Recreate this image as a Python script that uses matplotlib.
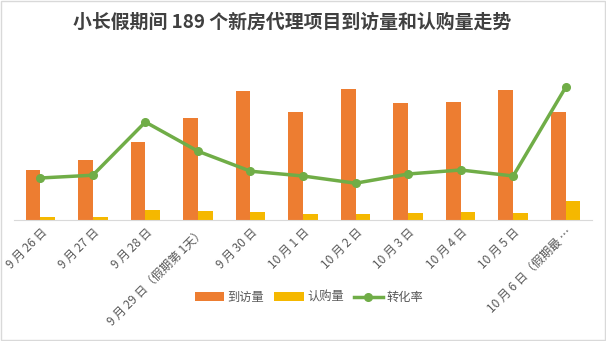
import matplotlib.pyplot as plt
import numpy as np

plt.rcParams['font.family'] = ['Noto Sans CJK SC', 'DejaVu Sans']

# daily figures for the holiday week
dates = ['9 月 26 日', '9 月 27 日', '9 月 28 日', '9 月 29 日（假期第 1天）', '9 月 30 日',
         '10 月 1 日', '10 月 2 日', '10 月 3 日', '10 月 4 日', '10 月 5 日',
         '10 月 6 日（假期最 …']
visits = [5000, 6000, 7800, 10200, 12900, 10800, 13100, 11700, 11800, 13000, 10800]
purchases = [300, 300, 1000, 900, 800, 600, 600, 700, 800, 700, 1900]
conv_rate = [5.25, 5.6, 12.25, 8.6, 6.1, 5.5, 4.6, 5.75, 6.25, 5.5, 16.6]

orange = '#ED7D31'
yellow = '#F5B800'
green = '#70AD47'
grey_txt = '#595959'

fig = plt.figure(figsize=(6.06, 3.41), dpi=100)
ax = fig.add_axes([14 / 606, 1 - 220 / 341, 578 / 606, 160 / 341])
ax2 = ax.twinx()

x = np.arange(len(dates))
w = 0.28
b1 = ax.bar(x - w / 2, visits, w, color=orange, label='到访量')
b2 = ax.bar(x + w / 2, purchases, w, color=yellow, label='认购量')
ln, = ax2.plot(x, conv_rate, color=green, lw=2.5, marker='o', ms=5.5, label='转化率')

ax.set_xlim(-0.5, len(dates) - 0.5)
ax.set_ylim(0, 16000)
ax2.set_ylim(0, 20)

for a in (ax, ax2):
    a.set_yticks([])
    for s in ('top', 'right', 'left'):
        a.spines[s].set_visible(False)
    a.spines['bottom'].set_color('#D9D9D9')
ax2.spines['bottom'].set_visible(False)

ax.set_xticks(x)
ax.set_xticklabels(dates, rotation=45, ha='right', rotation_mode='anchor',
                   fontsize=8.6, color=grey_txt)
ax.tick_params(axis='x', length=0, pad=4)

fig.text(0.482, 0.935, '小长假期间 189 个新房代理项目到访量和认购量走势',
         ha='center', va='center', fontsize=13.6, fontweight='bold', color='#404040')

fig.legend([b1, b2, ln], ['到访量', '认购量', '转化率'], loc='center',
           bbox_to_anchor=(0.51, 0.128), ncol=3, frameon=False, fontsize=8.8,
           labelcolor=grey_txt, handlelength=2.4, handleheight=0.7,
           columnspacing=0.8, handletextpad=0.3)

# thin frame round the whole chart
fig.patches.append(plt.Rectangle((0.002, 0.003), 0.996, 0.994, transform=fig.transFigure,
                                 fill=False, edgecolor='#D9D9D9', lw=1))

fig.savefig('out.png', dpi=100)
